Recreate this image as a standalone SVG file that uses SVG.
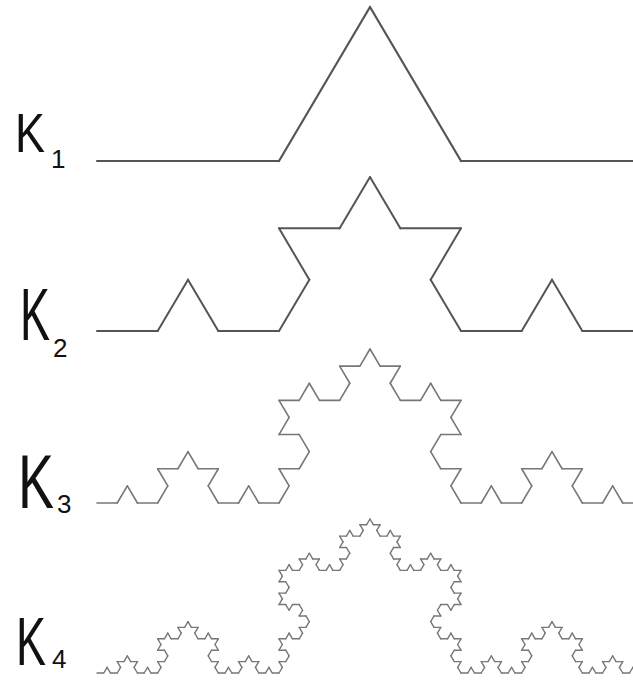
<svg xmlns="http://www.w3.org/2000/svg" xmlns:xlink="http://www.w3.org/1999/xlink" width="633" height="681" viewBox="0 0 633 681">
<style>
.seg{fill:none;stroke-linecap:round;vector-effect:non-scaling-stroke}
.lbl{font-family:"Liberation Sans","DejaVu Sans",sans-serif;fill:#111}
.sub{font-size:26px}
</style>
<defs>
<line id="k0" class="seg" x1="0" y1="0" x2="546" y2="0"/>
<g id="k1">
<use href="#k0" transform="scale(0.333333)"/>
<use href="#k0" transform="translate(182,0) rotate(-60) scale(0.333333)"/>
<use href="#k0" transform="translate(273,-157.617) rotate(60) scale(0.333333)"/>
<use href="#k0" transform="translate(364,0) scale(0.333333)"/>
</g>
<g id="k2">
<use href="#k1" transform="scale(0.333333)"/>
<use href="#k1" transform="translate(182,0) rotate(-60) scale(0.333333)"/>
<use href="#k1" transform="translate(273,-157.617) rotate(60) scale(0.333333)"/>
<use href="#k1" transform="translate(364,0) scale(0.333333)"/>
</g>
<g id="k3">
<use href="#k2" transform="scale(0.333333)"/>
<use href="#k2" transform="translate(182,0) rotate(-60) scale(0.333333)"/>
<use href="#k2" transform="translate(273,-157.617) rotate(60) scale(0.333333)"/>
<use href="#k2" transform="translate(364,0) scale(0.333333)"/>
</g>
<g id="k4">
<use href="#k3" transform="scale(0.333333)"/>
<use href="#k3" transform="translate(182,0) rotate(-60) scale(0.333333)"/>
<use href="#k3" transform="translate(273,-157.617) rotate(60) scale(0.333333)"/>
<use href="#k3" transform="translate(364,0) scale(0.333333)"/>
</g>
</defs>
<rect width="633" height="681" fill="#fff"/>
<g id="curves">
<use href="#k1" transform="translate(97,161) scale(1,0.977)" stroke="#555" stroke-width="2.2"/>
<use href="#k2" transform="translate(97,331) scale(1,0.977)" stroke="#555" stroke-width="2"/>
<use href="#k3" transform="translate(97,503) scale(1,0.977)" stroke="#777" stroke-width="1.6"/>
<use href="#k4" transform="translate(97,673) scale(1,0.977)" stroke="#777" stroke-width="1.4"/>
</g>
<g id="labels">
<text class="lbl" x="15" y="152" font-size="56" textLength="30" lengthAdjust="spacingAndGlyphs">K</text><text class="lbl sub" x="51" y="168">1</text>
<text class="lbl" x="20" y="340" font-size="74" textLength="30" lengthAdjust="spacingAndGlyphs">K</text><text class="lbl sub" x="53" y="357">2</text>
<text class="lbl" x="18" y="508" font-size="76" textLength="36" lengthAdjust="spacingAndGlyphs">K</text><text class="lbl sub" x="57" y="513">3</text>
<text class="lbl" x="16" y="665" font-size="68" textLength="30" lengthAdjust="spacingAndGlyphs">K</text><text class="lbl sub" x="52" y="668">4</text>
</g>
</svg>
